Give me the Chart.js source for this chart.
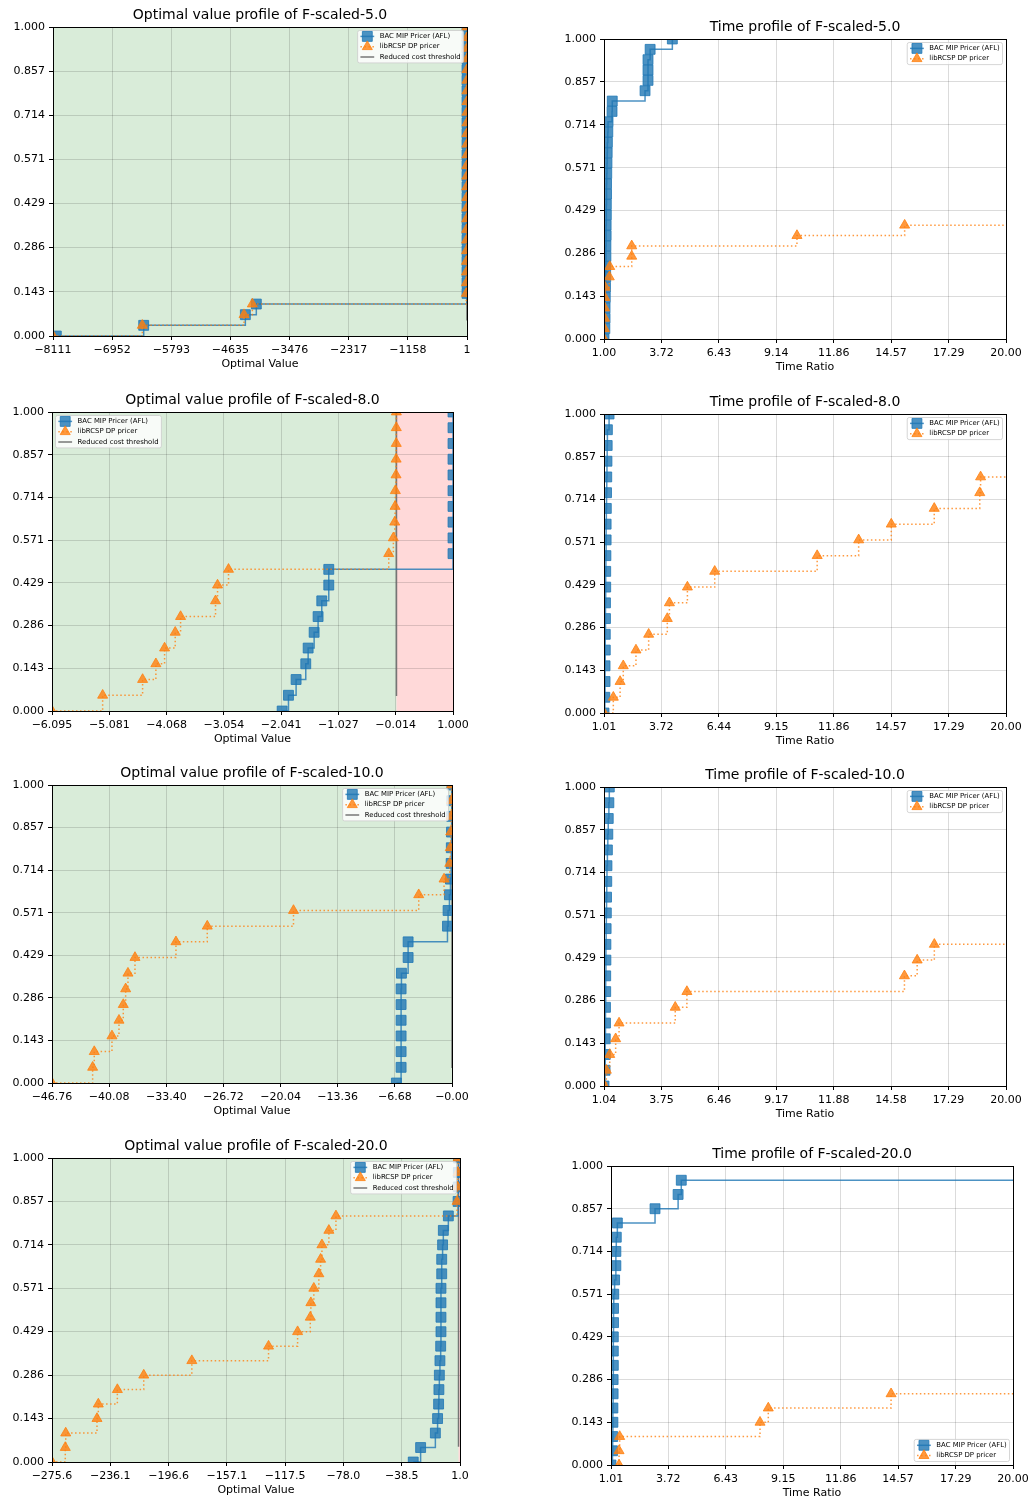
<!DOCTYPE html>
<html>
<head>
<meta charset="utf-8">
<script src="https://cdn.jsdelivr.net/npm/chart.js@4.4.1/dist/chart.umd.min.js"></script>
<style>
html, body { margin: 0; padding: 0; background: #fff; }
body { position: relative; width: 1035px; height: 1499px; overflow: hidden; }
canvas { position: absolute; }
</style>
</head>
<body>
<canvas id="c1"></canvas><canvas id="c2"></canvas>
<canvas id="c3"></canvas><canvas id="c4"></canvas>
<canvas id="c5"></canvas><canvas id="c6"></canvas>
<canvas id="c7"></canvas><canvas id="c8"></canvas>
<script>
// share of instances reached (profile steps)
const levels29 = [0, 0.0345, 0.0690, 0.1034, 0.1379, 0.1724, 0.2069, 0.2414, 0.2759, 0.3103, 0.3448, 0.3793, 0.4138, 0.4483, 0.4828, 0.5172, 0.5517, 0.5862, 0.6207, 0.6552, 0.6897, 0.7241, 0.7586, 0.7931, 0.8276, 0.8621, 0.8966, 0.9310, 0.9655, 1.0];
const levels19 = [0, 0.0526, 0.1053, 0.1579, 0.2105, 0.2632, 0.3158, 0.3684, 0.4211, 0.4737, 0.5263, 0.5789, 0.6316, 0.6842, 0.7368, 0.7895, 0.8421, 0.8947, 0.9474, 1.0];
const levels21 = [0, 0.0476, 0.0952, 0.1429, 0.1905, 0.2381, 0.2857, 0.3333, 0.3810, 0.4286, 0.4762, 0.5238, 0.5714, 0.6190, 0.6667, 0.7143, 0.7619, 0.8095, 0.8571, 0.9048, 0.9524, 1.0];

const yTickLabels = ['0.000', '0.143', '0.286', '0.429', '0.571', '0.714', '0.857', '1.000'];

// F-scaled-5.0
const opt5Bac = [-8046, -6334, -4342, -4127, 1, 1, 1, 1, 1, 1, 1, 1, 1, 1, 1, 1, 1, 1, 1, 1, 1, 1, 1, 1, 1, 1, 1, 1, 1, 1];
const opt5Dp = [-8111, -6361, -4368, -4205, -12, -11, -10, -9, -8, -7, -6, -5, -5, -4, -4, -3, -3, -2, -2, -2, -1, -1, -1, -1, 0, 0, 0, 0, 0, 0];
const opt5Ticks = ['\u22128111', '\u22126952', '\u22125793', '\u22124635', '\u22123476', '\u22122317', '\u22121158', '1'];
const time5Bac = [1.00, 1.04, 1.05, 1.05, 1.06, 1.07, 1.08, 1.08, 1.09, 1.09, 1.10, 1.10, 1.11, 1.11, 1.12, 1.12, 1.13, 1.14, 1.15, 1.16, 1.18, 1.19, 1.38, 1.39, 2.94, 3.08, 3.08, 3.08, 3.18, 4.23];
const time5Dp = [1.00, 1.02, 1.03, 1.03, 1.04, 1.05, 1.25, 1.27, 2.31, 2.31, 10.12, 15.21];
const time5Ticks = ['1.00', '3.72', '6.43', '9.14', '11.86', '14.57', '17.29', '20.00'];

// F-scaled-8.0
const opt8Bac = [-2.023, -1.911, -1.776, -1.605, -1.563, -1.457, -1.387, -1.322, -1.198, -1.198, 1, 1, 1, 1, 1, 1, 1, 1, 1, 1];
const opt8Dp = [-6.095, -5.199, -4.492, -4.257, -4.103, -3.915, -3.820, -3.202, -3.166, -2.972, -0.137, -0.055, -0.031, -0.025, -0.020, -0.008, -0.006, -0.004, -0.003, -0.002];
const opt8Ticks = ['\u22126.095', '\u22125.081', '\u22124.068', '\u22123.054', '\u22122.041', '\u22121.027', '\u22120.014', '1.000'];
const time8Bac = [1.01, 1.05, 1.06, 1.06, 1.07, 1.07, 1.08, 1.08, 1.09, 1.09, 1.10, 1.11, 1.11, 1.12, 1.13, 1.14, 1.15, 1.16, 1.17, 1.25];
const time8Dp = [1.01, 1.45, 1.77, 1.92, 2.52, 3.12, 4.00, 4.10, 4.95, 6.24, 11.08, 13.04, 14.58, 16.61, 18.76, 18.80];
const time8Ticks = ['1.01', '3.72', '6.44', '9.15', '11.86', '14.57', '17.29', '20.00'];

// F-scaled-10.0
const opt10Bac = [-6.50, -5.95, -5.95, -5.95, -5.95, -5.95, -5.95, -5.91, -5.13, -5.13, -0.53, -0.46, -0.30, -0.18, -0.10, -0.08, -0.06, -0.04, -0.02, -0.01];
const opt10Dp = [-46.76, -42.01, -41.82, -39.75, -38.93, -38.43, -38.15, -37.88, -37.06, -32.27, -28.61, -18.53, -3.89, -0.93, -0.26, -0.20, -0.15, -0.10, -0.06, -0.03];
const opt10Ticks = ['\u221246.76', '\u221240.08', '\u221233.40', '\u221226.72', '\u221220.04', '\u221213.36', '\u22126.68', '\u22120.00'];
const time10Bac = [1.04, 1.09, 1.10, 1.10, 1.11, 1.11, 1.12, 1.12, 1.13, 1.13, 1.14, 1.15, 1.16, 1.17, 1.18, 1.20, 1.22, 1.24, 1.27, 1.29];
const time10Dp = [1.07, 1.15, 1.31, 1.59, 1.75, 4.40, 4.95, 15.21, 15.81, 16.62];
const time10Ticks = ['1.04', '3.75', '6.46', '9.17', '11.88', '14.58', '17.29', '20.00'];

// F-scaled-20.0
const opt20Bac = [-30.7, -25.7, -15.7, -14.2, -13.5, -13.3, -13.0, -12.6, -12.1, -11.9, -11.9, -11.9, -11.9, -11.4, -11.4, -10.8, -10.3, -6.9, -0.3, -0.2, -0.1, 0.0];
const opt20Dp = [-275.6, -266.6, -266.3, -245.1, -244.2, -231.3, -213.4, -180.8, -128.8, -109.1, -100.5, -100.1, -98.1, -94.7, -93.5, -92.6, -87.9, -83.1, -1.0, -0.6, -0.4, -0.2];
const opt20Ticks = ['\u2212275.6', '\u2212236.1', '\u2212196.6', '\u2212157.1', '\u2212117.5', '\u221278.0', '\u221238.5', '1.0'];
const time20Bac = [1.01, 1.08, 1.09, 1.10, 1.10, 1.11, 1.11, 1.12, 1.12, 1.12, 1.13, 1.13, 1.14, 1.18, 1.24, 1.24, 1.26, 1.31, 3.09, 4.18, 4.33];
const time20Dp = [1.39, 1.39, 1.42, 8.05, 8.44, 14.24];
const time20Ticks = ['1.01', '3.72', '6.43', '9.15', '11.86', '14.57', '17.29', '20.00'];

// reduced cost threshold: x position and vertical extent
const thresholdX = 0;
const thresholdSpan = [0.05, 1];

const panels = [
  { title: 'Optimal value profile of F-scaled-5.0', kind: 'opt', levels: levels29, bac: opt5Bac, dp: opt5Dp, ticks: opt5Ticks, legend: 'upper right' },
  { title: 'Time profile of F-scaled-5.0', kind: 'time', levels: levels29, bac: time5Bac, dp: time5Dp, dpTail: 20, ticks: time5Ticks, legend: 'upper right' },
  { title: 'Optimal value profile of F-scaled-8.0', kind: 'opt', levels: levels19, bac: opt8Bac, dp: opt8Dp, ticks: opt8Ticks, legend: 'upper left' },
  { title: 'Time profile of F-scaled-8.0', kind: 'time', levels: levels19, bac: time8Bac, dp: time8Dp, dpTail: 20, ticks: time8Ticks, legend: 'upper right' },
  { title: 'Optimal value profile of F-scaled-10.0', kind: 'opt', levels: levels19, bac: opt10Bac, dp: opt10Dp, ticks: opt10Ticks, legend: 'upper right' },
  { title: 'Time profile of F-scaled-10.0', kind: 'time', levels: levels19, bac: time10Bac, dp: time10Dp, dpTail: 20, ticks: time10Ticks, legend: 'upper right' },
  { title: 'Optimal value profile of F-scaled-20.0', kind: 'opt', levels: levels21, bac: opt20Bac, dp: opt20Dp, ticks: opt20Ticks, legend: 'upper right' },
  { title: 'Time profile of F-scaled-20.0', kind: 'time', levels: levels21, bac: time20Bac, bacTail: 20, dp: time20Dp, dpTail: 20, ticks: time20Ticks, legend: 'lower right' }
];

// plot areas on the page: left, top, right, bottom
const areas = [
  [53, 27, 467, 336], [604, 39, 1006, 339],
  [52, 412, 453, 711], [604, 414, 1006, 713],
  [52, 785, 452, 1083], [604, 787, 1006, 1086],
  [52, 1158, 460, 1462], [611, 1166, 1013, 1465]
];
const ML = 50, MR = 50, MT = 26, MB = 40;

const BLUE = 'rgba(31,119,180,0.8)';
const ORANGE = 'rgba(255,127,14,0.8)';
const GRAY = 'rgba(105,105,105,0.9)';

Chart.defaults.font.family = "'DejaVu Sans', sans-serif";
Chart.defaults.color = '#000';

function toNum(s) { return parseFloat(s.replace('\u2212', '-')); }

function profile(xs, levels, tail) {
  const pts = xs.map((x, i) => ({ x: x, y: levels[i] }));
  if (tail != null) pts.push({ x: tail, y: levels[xs.length - 1] });
  return pts;
}

// green / red shading either side of zero reduced cost
function zonesPlugin(on) {
  return {
    id: 'zones',
    beforeDraw(chart) {
      if (!on) return;
      const { ctx, chartArea: a, scales: { x } } = chart;
      const x0 = Math.min(Math.max(x.getPixelForValue(thresholdX), a.left), a.right);
      ctx.save();
      ctx.fillStyle = 'rgba(0,128,0,0.15)';
      ctx.fillRect(a.left, a.top, x0 - a.left, a.height);
      if (x0 < a.right) {
        ctx.fillStyle = 'rgba(255,0,0,0.15)';
        ctx.fillRect(x0, a.top, a.right - x0, a.height);
      }
      ctx.restore();
    }
  };
}

// black box around the axes
const framePlugin = {
  id: 'frame',
  afterDatasetsDraw(chart) {
    const { ctx, chartArea: a } = chart;
    ctx.save();
    ctx.strokeStyle = '#000';
    ctx.lineWidth = 1;
    ctx.strokeRect(a.left + 0.5, a.top + 0.5, a.right - a.left, a.bottom - a.top);
    ctx.restore();
  }
};

// matplotlib style legend drawn inside the axes
function legendPlugin(where) {
  return {
    id: 'innerLegend',
    afterDraw(chart) {
      const { ctx, chartArea: a } = chart;
      const items = chart.data.datasets;
      const fs = 6.9, pad = 2.8, hl = 13.8, tp = 5.5, rowH = 10.3;
      ctx.save();
      ctx.font = fs + "px 'DejaVu Sans'";
      const tw = Math.max(...items.map(d => ctx.measureText(d.label).width));
      const w = pad + hl + tp + tw + pad;
      const h = items.length * rowH + 1.5;
      let x = a.right - 3.5 - w, y = a.top + 3.5;
      if (where === 'upper left') x = a.left + 3.5;
      if (where === 'lower right') y = a.bottom - 3.5 - h;
      ctx.beginPath();
      if (ctx.roundRect) ctx.roundRect(x, y, w, h, 2); else ctx.rect(x, y, w, h);
      ctx.fillStyle = 'rgba(255,255,255,0.8)';
      ctx.fill();
      ctx.strokeStyle = 'rgba(204,204,204,0.8)';
      ctx.lineWidth = 1;
      ctx.stroke();
      items.forEach((d, i) => {
        const cy = y + 0.75 + rowH * (i + 0.5);
        const hx = x + pad;
        ctx.save();
        ctx.strokeStyle = d.borderColor;
        ctx.lineWidth = d.borderWidth;
        ctx.setLineDash(d.borderDash || []);
        ctx.beginPath();
        ctx.moveTo(hx, cy);
        ctx.lineTo(hx + hl, cy);
        ctx.stroke();
        ctx.restore();
        if (d.markerSize) {
          ctx.fillStyle = d.pointBackgroundColor;
          ctx.strokeStyle = d.pointBorderColor;
          Chart.helpers.drawPoint(ctx, { pointStyle: d.pointStyle, radius: d.markerSize, borderWidth: 1, rotation: 0 }, hx + hl / 2, cy);
        }
        ctx.fillStyle = '#000';
        ctx.textBaseline = 'middle';
        ctx.textAlign = 'left';
        ctx.fillText(d.label, hx + hl + tp, cy);
      });
      ctx.restore();
    }
  };
}

function seriesSet(p) {
  const sets = [
    {
      label: 'BAC MIP Pricer (AFL)',
      data: profile(p.bac, p.levels, p.bacTail),
      order: 1,
      stepped: true,
      borderColor: BLUE, borderWidth: 1.5,
      pointStyle: 'rect', markerSize: 7,
      pointRadius: c => (c.dataIndex < p.bac.length ? 7 : 0),
      pointBackgroundColor: BLUE, pointBorderColor: BLUE, pointBorderWidth: 1,
      clip: 0
    },
    {
      label: 'libRCSP DP pricer',
      data: profile(p.dp, p.levels, p.dpTail),
      order: 0,
      stepped: true,
      borderColor: ORANGE, borderWidth: 1.5, borderDash: [1.5, 2.5],
      pointStyle: 'triangle', markerSize: 5.8,
      pointRadius: c => (c.dataIndex < p.dp.length ? 5.8 : 0),
      pointBackgroundColor: ORANGE, pointBorderColor: ORANGE, pointBorderWidth: 1,
      clip: 0
    }
  ];
  if (p.kind === 'opt') {
    sets.push({
      label: 'Reduced cost threshold',
      data: thresholdSpan.map(v => ({ x: thresholdX, y: v })),
      order: 2,
      borderColor: GRAY, borderWidth: 1.5,
      pointRadius: 0,
      clip: 0
    });
  }
  return sets;
}

panels.forEach((p, k) => {
  const [L, T, R, B] = areas[k];
  const canvas = document.getElementById('c' + (k + 1));
  canvas.width = R - L + ML + MR;
  canvas.height = B - T + MT + MB;
  canvas.style.left = (L - ML) + 'px';
  canvas.style.top = (T - MT) + 'px';

  const xVals = p.ticks.map(toNum);
  const yVals = yTickLabels.map(toNum);
  const grid = { color: 'rgba(0,0,0,0.14)', lineWidth: 1, tickColor: '#000', tickLength: 4 };

  new Chart(canvas.getContext('2d'), {
    type: 'line',
    data: { datasets: seriesSet(p) },
    options: {
      responsive: false,
      animation: false,
      devicePixelRatio: 1,
      layout: { padding: { left: 0, right: MR, top: 0, bottom: 0 } },
      plugins: {
        legend: { display: false },
        tooltip: { enabled: false },
        title: {
          display: true,
          text: p.title,
          fullSize: false,
          font: { size: 14, weight: 'normal', lineHeight: '15px' },
          padding: { top: 7, bottom: 4 }
        }
      },
      scales: {
        x: {
          type: 'linear',
          min: xVals[0],
          max: xVals[xVals.length - 1],
          afterBuildTicks: s => { s.ticks = xVals.map(v => ({ value: v })); },
          afterFit: s => { s.height = MB; },
          ticks: { autoSkip: false, maxRotation: 0, padding: 4, font: { size: 11 }, callback: (v, i) => p.ticks[i] },
          grid: grid,
          border: { display: false },
          title: {
            display: true,
            text: p.kind === 'opt' ? 'Optimal Value' : 'Time Ratio',
            font: { size: 11, lineHeight: '13px' },
            padding: { top: 0, bottom: 5 }
          }
        },
        y: {
          type: 'linear',
          min: 0,
          max: 1,
          afterBuildTicks: s => { s.ticks = yVals.map(v => ({ value: v })); },
          afterFit: s => { s.width = ML; },
          ticks: { padding: 4, font: { size: 11 }, callback: (v, i) => yTickLabels[i] },
          grid: grid,
          border: { display: false }
        }
      }
    },
    plugins: [zonesPlugin(p.kind === 'opt'), framePlugin, legendPlugin(p.legend)]
  });
});
</script>
</body>
</html>
